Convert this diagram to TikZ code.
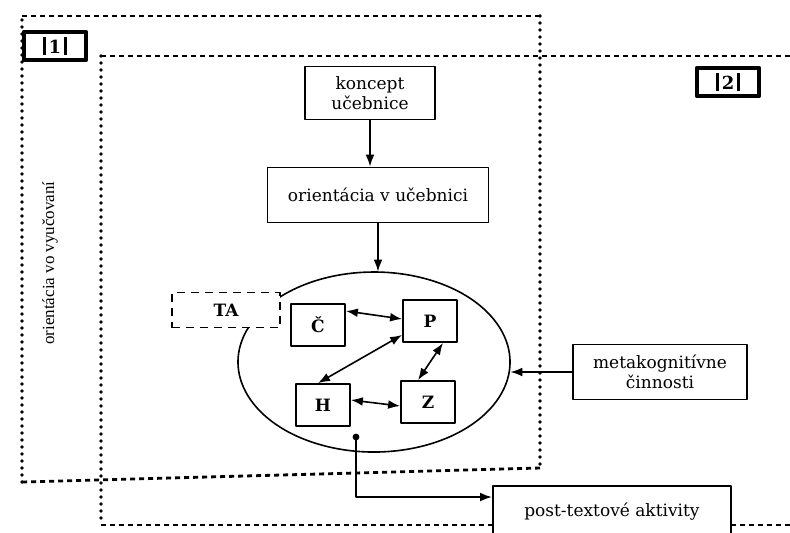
\documentclass[tikz,border=0pt]{standalone}
\usepackage{fontspec}
\setmainfont{DejaVu Serif}
\newfontfamily\timesfont{Liberation Serif}
\usetikzlibrary{arrows.meta,shapes.geometric}

\begin{document}
\begin{tikzpicture}[x=0.5pt, y=-0.5pt, font=\fontsize{8.5}{10}\selectfont, line join=round, >={Latex[length=6pt,width=4.4pt]},
	box/.style={draw, line width=0.9pt, fill=white, align=center, inner sep=2pt},
	letterbox/.style={box, minimum width=27pt, minimum height=21pt, font=\fontsize{8.5}{10}\selectfont\bfseries},
	hline/.style={line width=1.4pt, dash pattern=on 2.5pt off 2pt},
	vline/.style={line width=1.9pt, line cap=round, dash pattern=on 0pt off 3.5pt},
	numbox/.style={draw, line width=2.4pt, fill=white, minimum width=31pt, minimum height=14pt, inner sep=0pt, font=\fontsize{9}{9}\selectfont\bfseries}]
	\useasboundingbox (0,0) rectangle (790,532);
	\clip (0,0) rectangle (790,532);
	% ramec 1
	\draw[hline] (22,16)--(540,16);
	\draw[vline] (540,16)--(540,468);
	\draw[hline] (540,468)--(22,482);
	\draw[vline] (22,482)--(22,16);
	% ramec 2
	\draw[hline] (101,56)--(800,56);
	\draw[vline] (101,56)--(101,525);
	\draw[hline] (101,525)--(800,525);
	\node[numbox] (one) at (55,46) {\rule[-1pt]{1.6pt}{9pt}\,1\,\rule[-1pt]{1.6pt}{9pt}};
	\node[numbox] (two) at (728,82) {\rule[-1pt]{1.6pt}{9pt}\,2\,\rule[-1pt]{1.6pt}{9pt}};
	\node[rotate=90, font=\timesfont\fontsize{8.5}{10}\selectfont] (side) at (50,263) {orientácia vo vyučovaní};
	% schema
	\node[box, minimum width=65pt, minimum height=26.5pt] (koncept) at (370,93) {koncept\\učebnice};
	\node[box, minimum width=110.5pt, minimum height=27.5pt] (orient) at (378,195) {orientácia v učebnici};
	\node[ellipse, minimum width=136pt, minimum height=90pt, inner sep=0pt] (cyc) at (374,362) {};
	\draw[line width=0.8pt] ([shift={(157:68pt and 45pt)}]cyc.center) arc[start angle=157, end angle=495, x radius=68pt, y radius=45pt];
	\node[box, dashed, dash pattern=on 4pt off 3pt, minimum width=54pt, minimum height=17.5pt, font=\fontsize{8.5}{10}\selectfont\bfseries] (ta) at (226,310) {TA};
	\node[letterbox] (c) at (318,325) {Č};
	\node[letterbox] (p) at (430,321) {P};
	\node[letterbox] (h) at (323,405) {H};
	\node[letterbox] (z) at (428,402) {Z};
	\node[box, minimum width=87pt, minimum height=27.5pt] (meta) at (660,372) {metakognitívne\\činnosti};
	\node[box, anchor=north west, minimum width=119pt, minimum height=32pt, text depth=8pt] (post) at (492,485) {post-textové aktivity};
	\coordinate (dot) at (356,437);
	% sipky
	\draw[->, line width=0.8pt] (koncept.south) -- (koncept.south |- orient.north);
	\draw[->, line width=0.8pt] (orient.south) -- (orient.south |- cyc.north);
	\draw[->, line width=0.8pt] (meta.west) -- (cyc.east |- meta.west);
	\draw[<->, line width=0.8pt] ([yshift=7pt]c.east) -- ([yshift=1pt]p.west);
	\draw[<->, line width=0.8pt] ([yshift=4pt]p.south west) -- ([xshift=-2.5pt]h.north);
	\draw[<->, line width=0.8pt] ([xshift=6.5pt]p.south) -- ([xshift=-5pt]z.north);
	\draw[<->, line width=0.8pt] ([yshift=2.5pt]h.east) -- ([yshift=-2pt]z.west);
	\fill (dot) circle (1.7pt);
	\draw[->, line width=0.8pt] (dot) |- ([yshift=-6pt]post.north west);
\end{tikzpicture}
\end{document}
